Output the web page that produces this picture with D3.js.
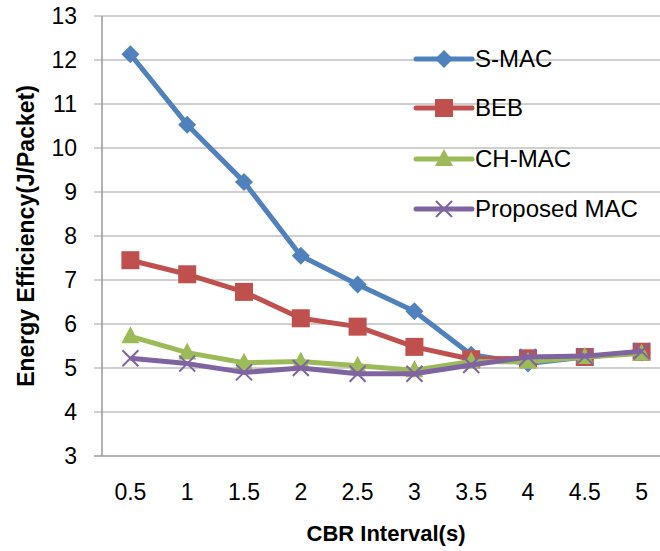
<html>
<head>
<script type="text/javascript" src="https://cdn.jsdelivr.net/npm/d3@7"></script>
<style>
  body{margin:0;background:#fff;}
  .line{fill:none;stroke-width:5px;stroke-linejoin:round;}
  text{font-family:"Liberation Sans",Arial,sans-serif;fill:#000;}
</style>
</head>
<body>
<script type="text/javascript">
// datos
var categories=["0.5","1","1.5","2","2.5","3","3.5","4","4.5","5"];
var seriesNames=["S-MAC","BEB","CH-MAC","Proposed MAC"];
var smac=[12.13,10.53,9.23,7.55,6.9,6.29,5.3,5.1,5.25,5.35];
var beb=[7.45,7.13,6.73,6.13,5.94,5.48,5.2,5.22,5.25,5.37];
var chmac=[5.72,5.35,5.12,5.15,5.05,4.95,5.15,5.14,5.25,5.33];
var proposed=[5.22,5.1,4.9,5.0,4.87,4.87,5.07,5.25,5.27,5.38];
var yTicks=[3,4,5,6,7,8,9,10,11,12,13];

var colors=["#4F81BD","#C0504D","#9BBB59","#8064A2"];
var markers=["diamond","square","triangle","cross"];
var values=[smac,beb,chmac,proposed];

var width=660,height=551;
var mLeft=102,mTop=16,mBottom=456;

var x=d3.scaleBand().domain(categories).range([mLeft,670]);
var y=d3.scaleLinear().domain([3,13]).range([mBottom,mTop]);

var svg=d3.select("body").append("svg")
  .attr("width",width).attr("height",height);

// lineas de la grilla
svg.append("g").selectAll("line").data(yTicks).enter().append("line")
  .attr("x1",mLeft-8).attr("x2",width)
  .attr("y1",function(d){return y(d);}).attr("y2",function(d){return y(d);})
  .attr("stroke",function(d){return d==3?"#999":"#bfbfbf";})
  .attr("stroke-width",1.5);

// eje vertical
svg.append("line").attr("x1",mLeft).attr("x2",mLeft).attr("y1",mTop).attr("y2",mBottom)
  .attr("stroke","#999").attr("stroke-width",1.5);

// etiquetas eje y
svg.append("g").selectAll("text").data(yTicks).enter().append("text")
  .attr("x",77).attr("y",function(d){return y(d)+8;})
  .attr("text-anchor","end").attr("font-size",23)
  .text(function(d){return d;});

// etiquetas eje x
svg.append("g").selectAll("text").data(categories).enter().append("text")
  .attr("x",function(d){return x(d)+x.bandwidth()/2;}).attr("y",500)
  .attr("text-anchor","middle").attr("font-size",23)
  .text(function(d){return d;});

// titulos
svg.append("text").attr("x",386).attr("y",541).attr("text-anchor","middle")
  .attr("font-size",22).attr("font-weight","bold").text("CBR Interval(s)");
svg.append("text").attr("transform","translate(34,236) rotate(-90)")
  .attr("text-anchor","middle").attr("font-size",23).attr("font-weight","bold")
  .text("Energy Efficiency(J/Packet)");

function drawMarker(g,type,color){
  if(type=="diamond"){
    g.append("path").attr("d","M0,-9L9,0L0,9L-9,0Z").attr("fill",color);
  }else if(type=="square"){
    g.append("rect").attr("x",-9).attr("y",-9).attr("width",18).attr("height",18).attr("fill",color);
  }else if(type=="triangle"){
    g.append("path").attr("d","M0,-10L9,7L-9,7Z").attr("fill",color);
  }else{
    g.append("path").attr("d","M-8,-8L8,8M-8,8L8,-8").attr("stroke",color)
      .attr("stroke-width",2).attr("fill","none");
  }
}

var valueline=d3.line()
  .x(function(d,i){return x(categories[i])+x.bandwidth()/2;})
  .y(function(d){return y(d);});

values.forEach(function(vals,s){
  svg.append("path").datum(vals).attr("class","line")
    .attr("stroke",colors[s]).attr("d",valueline);
  vals.forEach(function(v,i){
    var g=svg.append("g").attr("transform","translate("+(x(categories[i])+x.bandwidth()/2)+","+y(v)+")");
    drawMarker(g,markers[s],colors[s]);
  });
});

// leyenda
var legendY=[59,108,159,209];
seriesNames.forEach(function(name,s){
  svg.append("line").attr("x1",416).attr("x2",472)
    .attr("y1",legendY[s]).attr("y2",legendY[s])
    .attr("stroke",colors[s]).attr("stroke-width",5).attr("stroke-linecap","round");
  var g=svg.append("g").attr("transform","translate(444,"+legendY[s]+")");
  drawMarker(g,markers[s],colors[s]);
  svg.append("text").attr("x",475).attr("y",legendY[s]+8)
    .attr("font-size",24).text(name);
});
</script>
</body>
</html>
